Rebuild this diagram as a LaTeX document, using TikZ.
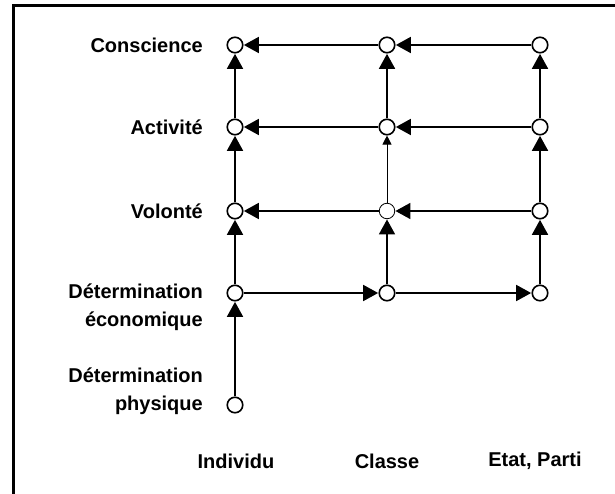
\documentclass[tikz,border=0pt]{standalone}
\usepackage{fontspec}
\setmainfont{Liberation Sans}
\usetikzlibrary{arrows.meta}
\begin{document}
\begin{tikzpicture}[x=1pt,y=-1pt,
  dot/.style={circle,draw,fill=white,line width=1.6pt,minimum size=15.5pt,inner sep=0pt},
  thindot/.style={dot,line width=0.8pt},
  flow/.style={line width=1.8pt,-{Triangle[length=15pt,width=16pt]},shorten >=0.3pt},
  thinflow/.style={line width=0.9pt,-{Triangle[length=9pt,width=9pt]}},
  lbl/.style={font=\fontsize{20}{28}\selectfont\bfseries,align=right,anchor=east,inner sep=0pt},
  col/.style={font=\fontsize{20}{28}\selectfont\bfseries,inner sep=0pt}]
\useasboundingbox (0,0) rectangle (615,494);
% frame
\draw[line width=3pt] (13.5,494) -- (13.5,6) -- (615,6);
% grid of states
\foreach \c/\x in {i/235,c/387,e/540}{
  \foreach \r/\y in {con/45,act/127,eco/293}{
    \node[dot] (\c\r) at (\x,\y) {};
  }
}
\node[dot] (ivol) at (235,211) {};
\node[thindot] (cvol) at (387,211) {};
\node[dot] (evol) at (540,211) {};
\node[dot] (iphy) at (235,405) {};
% row labels
\node[lbl] (lcon) at (203,45) {Conscience};
\node[lbl] (lact) at (203,127) {Activité};
\node[lbl] (lvol) at (203,211) {Volonté};
\node[lbl] (leco) at (203,307) {Détermination\\économique};
\node[lbl] (lphy) at (203,391) {Détermination\\physique};
% column labels
\node[col] (ci) at (236,461) {Individu};
\node[col] (cc) at (387,461) {Classe};
\node[col] (ce) at (535,461) {Etat, Parti};
% horizontal flows
\foreach \r in {con,act,vol}{
  \draw[flow] (e\r) -- (c\r);
  \draw[flow] (c\r) -- (i\r);
}
\draw[flow] (ieco) -- (ceco);
\draw[flow] (ceco) -- (eeco);
% vertical flows
\draw[flow] (iphy) -- (ieco);
\foreach \c in {i,c,e}{
  \draw[flow] (\c eco) -- (\c vol);
  \draw[flow] (\c act) -- (\c con);
}
\draw[flow] (ivol) -- (iact);
\draw[thinflow] (cvol) -- (cact);
\draw[flow] (evol) -- (eact);
\end{tikzpicture}
\end{document}
